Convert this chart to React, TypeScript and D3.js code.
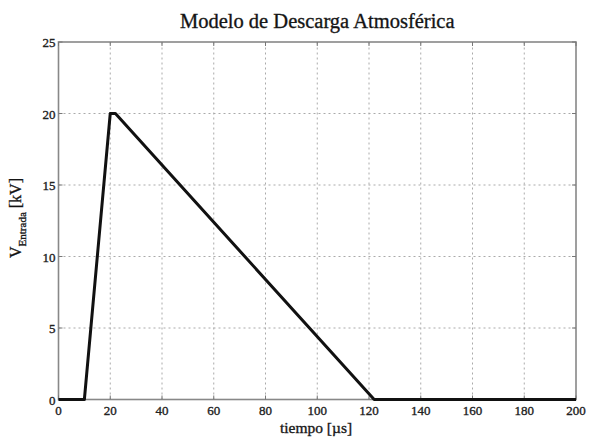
import React from "react";
import * as d3 from "d3";

const timeUs = [0, 10, 20, 22, 122, 200];
const voltageKV = [0, 0, 20, 20, 0, 0];
const xTicks = [0, 20, 40, 60, 80, 100, 120, 140, 160, 180, 200];
const yTicks = [0, 5, 10, 15, 20, 25];
const title = "Modelo de Descarga Atmosférica";
const xLabel = "tiempo [µs]";

export default function App() {
  const W = 591, H = 437;
  const m = { l: 58.5, r: 15, t: 42, b: 37.5 };
  const x = d3.scaleLinear().domain([0, 200]).range([m.l, W - m.r]);
  const y = d3.scaleLinear().domain([0, 25]).range([H - m.b, m.t]);
  const pts = timeUs.map((t, i) => [t, voltageKV[i]] as [number, number]);
  const line = d3.line<[number, number]>().x(d => x(d[0])).y(d => y(d[1]));
  const font = "'Liberation Serif', 'Times New Roman', serif";
  const ts = { stroke: "#222", strokeWidth: 0.35 };
  return (
    <svg width={W} height={H} style={{ position: "absolute", left: 0, top: 0, background: "#fff" }} fontFamily={font}>
      <rect x={0} y={0} width={W} height={H} fill="#fff" />
      {xTicks.slice(1, -1).map(t => (
        <line key={"gx" + t} x1={x(t)} x2={x(t)} y1={y(0)} y2={y(25)} stroke="#aaa" strokeWidth={1} strokeDasharray="2,3" />
      ))}
      {yTicks.slice(1, -1).map(t => (
        <line key={"gy" + t} x1={x(0)} x2={x(200)} y1={y(t)} y2={y(t)} stroke="#aaa" strokeWidth={1} strokeDasharray="2,3" />
      ))}
      <rect x={x(0)} y={y(25)} width={x(200) - x(0)} height={y(0) - y(25)} fill="none" stroke="#888" strokeWidth={1.6} />
      {xTicks.map(t => (
        <g key={"tx" + t}>
          <line x1={x(t)} x2={x(t)} y1={y(0)} y2={y(0) - 4} stroke="#777" />
          <line x1={x(t)} x2={x(t)} y1={y(25)} y2={y(25) + 4} stroke="#777" />
          <text x={x(t)} y={y(0) + 15.5} textAnchor="middle" fontSize={13} fill="#222" {...ts}>{t}</text>
        </g>
      ))}
      {yTicks.map(t => (
        <g key={"ty" + t}>
          <line x1={x(0)} x2={x(0) + 4} y1={y(t)} y2={y(t)} stroke="#777" />
          <line x1={x(200)} x2={x(200) - 4} y1={y(t)} y2={y(t)} stroke="#777" />
          <text x={x(0) - 3} y={y(t) + 5} textAnchor="end" fontSize={13} fill="#222" {...ts}>{t}</text>
        </g>
      ))}
      <path d={line(pts) || ""} fill="none" stroke="#111" strokeWidth={3} strokeLinejoin="round" />
      <text x={(x(0) + x(200)) / 2} y={28} textAnchor="middle" fontSize={20.5} fill="#111" {...ts}>{title}</text>
      <text x={316} y={432.5} textAnchor="middle" fontSize={15.5} fill="#111" {...ts}>{xLabel}</text>
      <text transform={`translate(21, 218) rotate(-90)`} textAnchor="middle" fontSize={16} fill="#111" {...ts}>
        <tspan>V</tspan>
        <tspan fontSize={11} dy={5}>Entrada</tspan>
        <tspan dy={-5}> [kV]</tspan>
      </text>
    </svg>
  );
}
